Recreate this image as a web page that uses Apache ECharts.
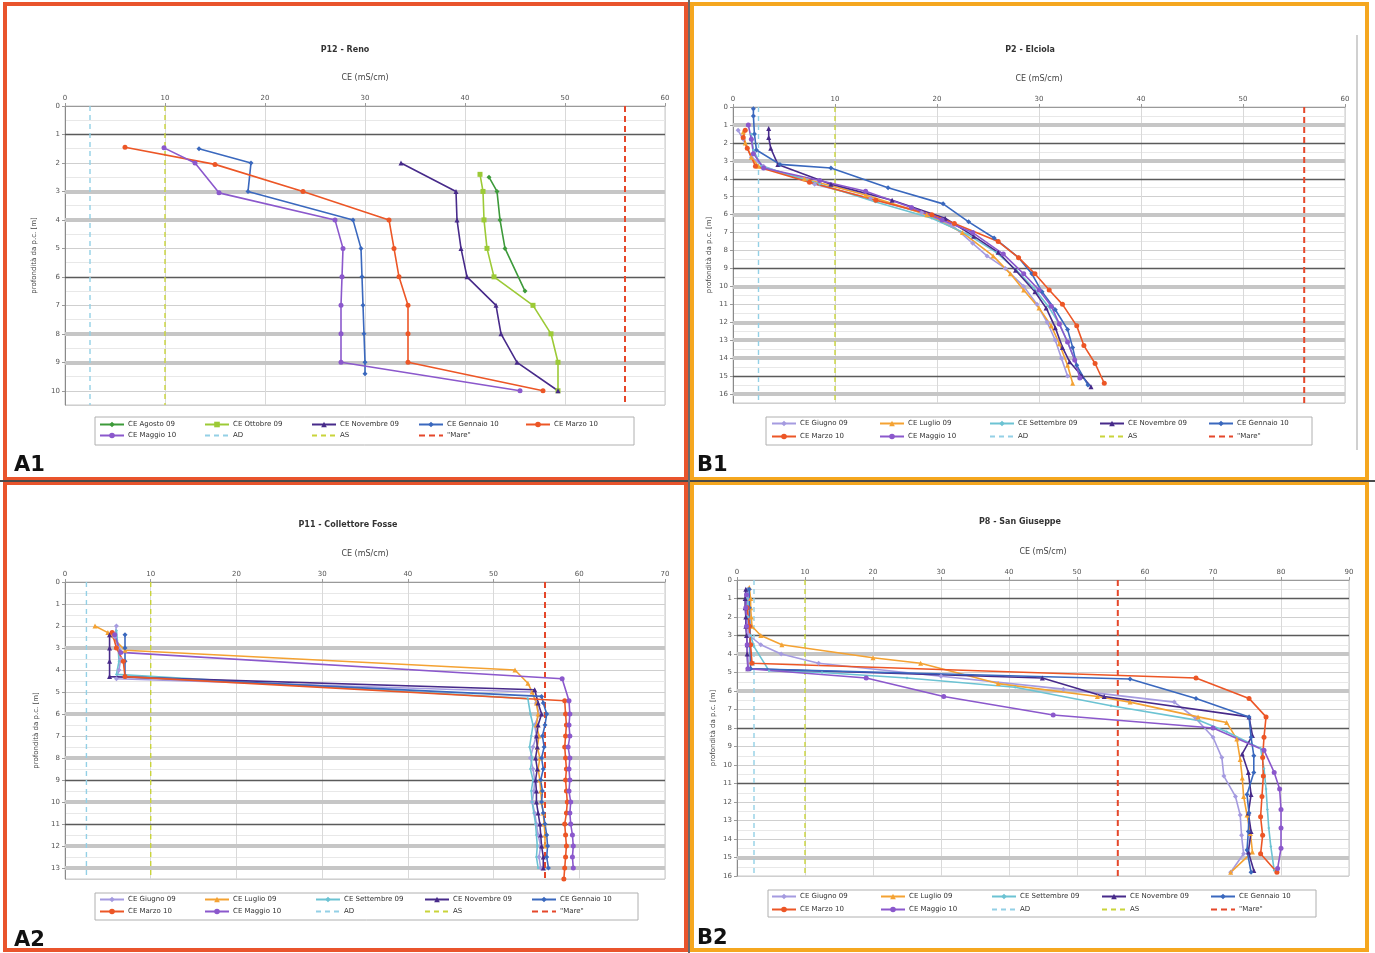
<!DOCTYPE html>
<html>
<head>
<meta charset="utf-8">
<script src="https://cdn.jsdelivr.net/npm/echarts@6/dist/echarts.min.js"></script>
<style>
html,body{margin:0;padding:0;background:#fff;}
#chart{width:1375px;height:953px;}
</style>
</head>
<body>
<div id="chart"></div>
<script>
// ---------------- DATA (x = CE mS/cm, y = depth m) ----------------
const REF_AD = 2.5, REF_AS = 10, REF_MARE = 56;

// A1 - P12 Reno
const A1_AGOSTO_09   = [[42.4,2.5],[43.2,3.0],[43.5,4.0],[44.0,5.0],[46.0,6.5]];
const A1_OTTOBRE_09  = [[41.5,2.4],[41.8,3.0],[41.9,4.0],[42.2,5.0],[42.9,6.0],[46.8,7.0],[48.6,8.0],[49.3,9.0],[49.3,10.0]];
const A1_NOVEMBRE_09 = [[33.6,2.0],[39.1,3.0],[39.2,4.0],[39.6,5.0],[40.2,6.0],[43.1,7.0],[43.6,8.0],[45.2,9.0],[49.3,10.0]];
const A1_GENNAIO_10  = [[13.4,1.5],[18.6,2.0],[18.3,3.0],[28.8,4.0],[29.6,5.0],[29.7,6.0],[29.8,7.0],[29.9,8.0],[30.0,9.0],[30.0,9.4]];
const A1_MARZO_10    = [[6.0,1.45],[15.0,2.05],[23.8,3.0],[32.4,4.0],[32.9,5.0],[33.4,6.0],[34.3,7.0],[34.3,8.0],[34.3,9.0],[47.8,10.0]];
const A1_MAGGIO_10   = [[9.9,1.47],[13.0,2.0],[15.4,3.05],[27.0,4.0],[27.8,5.0],[27.7,6.0],[27.6,7.0],[27.6,8.0],[27.6,9.0],[45.5,10.0]];

// B1 - P2 Elciola
const B1_GIUGNO_09    = [[0.5,1.3],[1.0,1.8],[1.8,2.8],[3.0,3.3],[8.0,4.3],[13.5,5.1],[18.5,5.9],[21.5,6.6],[23.5,7.6],[24.9,8.3],[26.7,9.0],[28.5,10.0],[29.8,11.0],[30.8,12.0],[31.6,13.0],[32.2,14.0],[32.8,15.0]];
const B1_LUGLIO_09    = [[1.0,1.4],[1.2,2.0],[1.8,2.8],[2.5,3.3],[7.0,4.0],[13.0,4.9],[19.0,6.0],[22.5,7.0],[25.5,8.3],[27.2,9.3],[28.5,10.2],[30.0,11.2],[31.2,12.2],[32.0,13.2],[32.8,14.4],[33.3,15.4]];
const B1_SETTEMBRE_09 = [[1.8,1.5],[2.0,2.4],[2.8,3.3],[8.5,4.3],[14.0,5.3],[19.5,6.2],[23.0,7.1],[25.8,8.1],[27.8,9.1],[29.5,10.1],[30.9,11.1],[32.0,12.1],[32.8,13.1],[33.5,14.1],[34.2,15.1]];
const B1_NOVEMBRE_09  = [[3.5,1.2],[3.5,1.7],[3.7,2.3],[4.4,3.2],[9.6,4.3],[15.6,5.2],[20.8,6.2],[23.6,7.2],[26.0,8.1],[27.7,9.1],[29.6,10.3],[30.7,11.2],[31.6,12.3],[32.3,13.4],[33.0,14.2],[34.2,15.0],[35.1,15.6]];
const B1_GENNAIO_10   = [[2.0,0.1],[2.0,0.5],[2.1,1.5],[2.3,2.4],[4.6,3.2],[9.6,3.4],[15.2,4.5],[20.6,5.4],[23.1,6.4],[25.6,7.3],[28.0,8.4],[29.3,9.3],[30.3,10.3],[31.6,11.3],[32.8,12.4],[33.3,13.4],[33.7,14.4],[34.8,15.5]];
const B1_MARZO_10     = [[1.2,1.3],[1.0,1.7],[1.4,2.3],[2.2,3.3],[7.5,4.2],[14.0,5.2],[19.5,6.0],[21.7,6.5],[26.0,7.5],[28.0,8.4],[29.6,9.3],[31.0,10.2],[32.3,11.0],[33.7,12.2],[34.4,13.3],[35.5,14.3],[36.4,15.4]];
const B1_MAGGIO_10    = [[1.5,1.0],[1.8,1.8],[2.0,2.6],[3.0,3.4],[8.5,4.1],[13.0,4.7],[17.5,5.6],[20.5,6.3],[23.5,7.0],[26.5,8.2],[28.5,9.3],[30.0,10.2],[31.2,11.1],[32.0,12.1],[32.8,13.1],[33.5,14.1],[34.0,15.1]];

// A2 - P11 Collettore Fosse
const A2_GIUGNO_09    = [[6.0,2.0],[5.8,2.5],[6.2,3.0],[6.5,3.5],[6.3,4.0],[6.0,4.4],[54.5,5.0],[55.0,5.5],[55.3,6.0],[54.8,6.5],[55.0,7.0],[54.6,7.5],[54.3,8.0],[54.6,8.5],[54.8,9.0],[54.7,9.5],[54.5,10.0],[54.8,10.5],[55.0,11.0],[55.2,11.5],[55.5,12.0],[55.3,12.5],[55.5,13.0]];
const A2_LUGLIO_09    = [[3.5,2.0],[5.0,2.3],[7.0,3.1],[52.5,4.0],[54.0,4.6],[54.5,5.0],[55.0,5.5],[55.2,6.0],[55.0,6.5],[55.3,7.0],[55.1,7.5],[55.4,8.0],[55.2,8.5],[55.4,9.0],[55.5,9.5],[55.6,10.0],[55.8,10.5],[55.9,11.0],[56.0,11.5],[56.0,12.0]];
const A2_SETTEMBRE_09 = [[6.0,2.2],[6.2,3.0],[6.3,3.6],[6.0,4.2],[54.0,5.3],[54.3,6.0],[54.6,6.5],[54.4,7.0],[54.2,7.5],[54.5,8.0],[54.3,8.5],[54.6,9.0],[54.4,9.5],[54.5,10.0],[54.7,10.5],[54.9,11.0],[55.0,11.5],[55.1,12.0],[55.0,12.5],[55.2,13.0]];
const A2_NOVEMBRE_09  = [[5.2,2.4],[5.2,3.0],[5.2,3.6],[5.2,4.3],[54.8,4.9],[55.2,5.5],[55.6,6.0],[55.2,6.5],[55.0,7.0],[55.1,7.5],[54.9,8.0],[55.1,8.5],[54.9,9.0],[55.0,9.5],[55.0,10.0],[55.2,10.5],[55.4,11.0],[55.5,11.5],[55.6,12.0],[55.8,12.5],[55.8,13.0]];
const A2_GENNAIO_10   = [[7.0,2.4],[7.0,3.0],[7.0,3.6],[7.0,4.3],[55.6,5.2],[55.8,5.5],[56.2,6.0],[56.0,6.5],[55.7,7.0],[55.9,7.5],[55.6,8.0],[55.8,8.5],[55.5,9.0],[55.7,9.5],[55.6,10.0],[55.8,10.5],[56.0,11.0],[56.2,11.5],[56.3,12.0],[56.2,12.5],[56.4,13.0]];
const A2_MARZO_10     = [[5.5,2.3],[6.0,3.0],[6.8,3.6],[7.0,4.3],[58.3,5.4],[58.4,6.0],[58.5,6.5],[58.4,7.0],[58.3,7.5],[58.4,8.0],[58.5,8.5],[58.4,9.0],[58.5,9.5],[58.6,10.0],[58.5,10.5],[58.3,11.0],[58.4,11.5],[58.5,12.0],[58.4,12.5],[58.3,13.0],[58.2,13.5]];
const A2_MAGGIO_10    = [[5.8,2.4],[6.5,3.2],[58.0,4.4],[58.8,5.4],[58.9,6.0],[58.8,6.5],[58.9,7.0],[58.7,7.5],[58.9,8.0],[58.8,8.5],[58.9,9.0],[58.8,9.5],[59.0,10.0],[58.9,10.5],[59.0,11.0],[59.2,11.5],[59.3,12.0],[59.2,12.5],[59.3,13.0]];

// B2 - P8 San Giuseppe
const B2_GIUGNO_09    = [[1.6,0.5],[1.5,1.0],[1.4,1.5],[1.5,2.0],[1.6,2.5],[1.8,3.0],[3.5,3.5],[6.5,4.0],[12.0,4.5],[30.0,5.2],[48.0,5.9],[64.3,6.6],[67.5,7.5],[70.0,8.5],[71.3,9.6],[71.6,10.6],[73.3,11.7],[74.0,12.7],[74.2,13.8],[74.5,14.8],[72.6,15.8]];
const B2_LUGLIO_09    = [[1.8,0.4],[2.0,1.0],[2.0,1.5],[2.1,2.0],[2.2,2.5],[3.5,3.0],[6.6,3.5],[20.0,4.2],[27.0,4.5],[38.4,5.6],[53.0,6.3],[57.8,6.6],[67.8,7.4],[72.0,7.7],[73.5,8.6],[74.0,9.7],[74.3,10.7],[74.5,11.7],[75.0,12.7],[75.5,13.7],[75.8,14.7],[72.6,15.8]];
const B2_SETTEMBRE_09 = [[1.5,0.5],[1.5,1.0],[1.6,2.0],[2.0,3.0],[2.5,3.6],[4.7,4.9],[12.5,5.0],[25.0,5.3],[40.9,5.8],[55.0,6.8],[68.0,7.6],[72.0,8.2],[77.0,9.1],[77.5,10.2],[77.8,11.3],[78.0,12.4],[78.2,13.4],[78.5,14.4],[79.0,15.7]];
const B2_NOVEMBRE_09  = [[1.3,0.5],[1.2,1.0],[1.2,1.5],[1.3,2.0],[1.3,2.5],[1.4,3.0],[1.5,3.5],[1.5,4.0],[1.6,4.8],[44.9,5.3],[54.0,6.3],[75.3,7.4],[75.8,8.4],[74.3,9.4],[75.2,10.4],[75.6,11.6],[75.2,12.6],[75.6,13.6],[75.2,14.7],[76.0,15.7]];
const B2_GENNAIO_10   = [[1.8,0.5],[1.8,1.5],[1.9,2.5],[1.9,3.5],[2.0,4.8],[57.8,5.35],[67.5,6.4],[75.3,7.4],[75.6,8.5],[76.0,9.5],[76.0,10.4],[75.0,11.6],[75.3,12.6],[75.2,13.6],[75.0,14.6],[75.6,15.8]];
const B2_MARZO_10     = [[1.5,1.5],[1.8,2.5],[2.0,3.5],[2.2,4.5],[67.5,5.3],[75.3,6.4],[77.8,7.4],[77.5,8.5],[77.3,9.6],[77.4,10.6],[77.2,11.7],[77.0,12.8],[77.3,13.8],[77.0,14.8],[79.4,15.8]];
const B2_MAGGIO_10    = [[1.4,0.8],[1.3,1.5],[1.4,2.5],[1.5,3.5],[1.6,4.8],[19.0,5.3],[30.4,6.3],[46.5,7.3],[70.0,8.0],[77.5,9.2],[79.0,10.4],[79.8,11.3],[80.0,12.4],[80.0,13.4],[80.0,14.5],[79.5,15.6]];

// Highlighted depth lines per panel
const A1_DARK = [1, 6],          A1_BAND = [3, 4, 8, 9];
const B1_DARK = [2, 4, 9, 15],   B1_BAND = [1, 3, 6, 10, 12, 13, 14, 16];
const A2_DARK = [9, 11],         A2_BAND = [3, 6, 8, 10, 12, 13];
const B2_DARK = [1, 3, 8, 11],   B2_BAND = [4, 6, 15];

// Axis ranges
const A1_X = [0, 60], A1_Y = [0, 10.5];
const B1_X = [0, 60], B1_Y = [0, 16.5];
const A2_X = [0, 70], A2_Y = [0, 13.5];
const B2_X = [0, 90], B2_Y = [0, 16];

const TITLES = ['P12 - Reno', 'P2 - Elciola', 'P11 - Collettore Fosse', 'P8 - San Giuseppe'];
const PANEL_LABELS = ['A1', 'B1', 'A2', 'B2'];
const X_NAME = 'CE (mS/cm)';
const Y_NAME = 'profondità da p.c. [m]';
const REF_NAMES = ['AD', 'AS', '"Mare"'];

// ---------------- STYLES ----------------
const STYLE = {
  'CE Agosto 09':    {color:'#3d9a3a', symbol:'diamond'},
  'CE Ottobre 09':   {color:'#9cca36', symbol:'square'},
  'CE Giugno 09':    {color:'#a59be0', symbol:'diamond'},
  'CE Luglio 09':    {color:'#f4a232', symbol:'triangle'},
  'CE Settembre 09': {color:'#6cc3d3', symbol:'diamond', size:3},
  'CE Novembre 09':  {color:'#472a8a', symbol:'triangle'},
  'CE Gennaio 10':   {color:'#3a68be', symbol:'diamond'},
  'CE Marzo 10':     {color:'#ec5626', symbol:'circle'},
  'CE Maggio 10':    {color:'#8b58cc', symbol:'circle'},
  'AD':              {color:'#93d0e6'},
  'AS':              {color:'#c9d43a'},
  '"Mare"':          {color:'#e5472a'}
};

const panels = [
  { grid:{left:65, top:106, width:600, height:299}, x:A1_X, y:A1_Y, yGap:27, title:[345,50],
    series:[['CE Agosto 09',A1_AGOSTO_09],['CE Ottobre 09',A1_OTTOBRE_09],['CE Novembre 09',A1_NOVEMBRE_09],['CE Gennaio 10',A1_GENNAIO_10],['CE Marzo 10',A1_MARZO_10],['CE Maggio 10',A1_MAGGIO_10]],
    dark:A1_DARK, band:A1_BAND,
    leg:{cols:[99,204,311,418,525], rows:[426,437], box:[95,417,539,28]} },
  { grid:{left:733, top:107, width:612, height:296}, x:B1_X, y:B1_Y, yGap:20, title:[1030,50],
    series:[['CE Giugno 09',B1_GIUGNO_09],['CE Luglio 09',B1_LUGLIO_09],['CE Settembre 09',B1_SETTEMBRE_09],['CE Novembre 09',B1_NOVEMBRE_09],['CE Gennaio 10',B1_GENNAIO_10],['CE Marzo 10',B1_MARZO_10],['CE Maggio 10',B1_MAGGIO_10]],
    dark:B1_DARK, band:B1_BAND,
    leg:{cols:[771,879,989,1099,1208], rows:[425,438], box:[766,417,546,28]} },
  { grid:{left:65, top:582, width:600, height:297}, x:A2_X, y:A2_Y, yGap:25, title:[348,525],
    series:[['CE Giugno 09',A2_GIUGNO_09],['CE Luglio 09',A2_LUGLIO_09],['CE Settembre 09',A2_SETTEMBRE_09],['CE Novembre 09',A2_NOVEMBRE_09],['CE Gennaio 10',A2_GENNAIO_10],['CE Marzo 10',A2_MARZO_10],['CE Maggio 10',A2_MAGGIO_10]],
    dark:A2_DARK, band:A2_BAND,
    leg:{cols:[99,204,315,424,531], rows:[901,913], box:[95,893,543,27]} },
  { grid:{left:737, top:580, width:612, height:296}, x:B2_X, y:B2_Y, yGap:20, title:[1020,522],
    series:[['CE Giugno 09',B2_GIUGNO_09],['CE Luglio 09',B2_LUGLIO_09],['CE Settembre 09',B2_SETTEMBRE_09],['CE Novembre 09',B2_NOVEMBRE_09],['CE Gennaio 10',B2_GENNAIO_10],['CE Marzo 10',B2_MARZO_10],['CE Maggio 10',B2_MAGGIO_10]],
    dark:B2_DARK, band:B2_BAND,
    leg:{cols:[771,880,991,1101,1210], rows:[898,911], box:[768,890,548,27]} }
];

const grids = [], xAxes = [], yAxes = [], series = [], legends = [], graphics = [];
const FONT = 'Verdana, "DejaVu Sans", sans-serif';

panels.forEach((p, i) => {
  grids.push(Object.assign({show:true, borderColor:'#c8c8c8', borderWidth:1, backgroundColor:'#fff'}, p.grid));
  xAxes.push({
    type:'value', gridIndex:i, position:'top', min:p.x[0], max:p.x[1], interval:10,
    name:X_NAME, nameLocation:'middle', nameGap:24,
    nameTextStyle:{fontSize:8, color:'#444', fontFamily:FONT},
    axisLine:{show:true, lineStyle:{color:'#9a9a9a'}},
    axisTick:{show:true, length:3, lineStyle:{color:'#9a9a9a'}},
    axisLabel:{fontSize:7, color:'#555', margin:4, fontFamily:FONT},
    splitLine:{show:true, lineStyle:{color:'#d9d9d9', width:1}}
  });
  yAxes.push({
    type:'value', gridIndex:i, inverse:true, min:p.y[0], max:p.y[1], interval:1,
    name:Y_NAME, nameLocation:'middle', nameGap:p.yGap, nameRotate:90,
    nameTextStyle:{fontSize:7, color:'#444', fontFamily:FONT},
    axisLine:{show:true, lineStyle:{color:'#8a8a8a'}},
    axisTick:{show:true, length:3, lineStyle:{color:'#9a9a9a'}},
    axisLabel:{fontSize:7, color:'#555', margin:5, showMaxLabel:Number.isInteger(p.y[1]), fontFamily:FONT},
    minorTick:{show:false, splitNumber:2},
    splitLine:{show:true, lineStyle:{color:'#cfcfcf', width:1}},
    minorSplitLine:{show:true, lineStyle:{color:'#e8e8e8', width:1}}
  });

  // reference dashed lines
  const refVals = [REF_AD, REF_AS, REF_MARE];
  REF_NAMES.forEach((rn, k) => {
    const s = {
      type:'line', name:rn, xAxisIndex:i, yAxisIndex:i, z:2,
      data:[[refVals[k], p.y[0]], [refVals[k], p.y[1]]],
      symbol:'none', silent:true,
      lineStyle:{color:STYLE[rn].color, width: rn === '"Mare"' ? 2 : 1.4, type: rn === '"Mare"' ? [6,4] : [5,4]},
      itemStyle:{color:STYLE[rn].color}
    };
    if (k === 0) {
      s.markLine = {
        silent:true, symbol:'none', z:1, animation:false,
        label:{show:false},
        lineStyle:{type:'solid'},
        data: p.band.map(d => ({yAxis:d, lineStyle:{color:'#c6c6c6', width:4, type:'solid'}}))
              .concat(p.dark.map(d => ({yAxis:d, lineStyle:{color:'#5a5a5a', width:1.3, type:'solid'}})))
      };
    }
    series.push(s);
  });

  p.series.forEach(([name, data]) => {
    const st = STYLE[name];
    series.push({
      type:'line', name, xAxisIndex:i, yAxisIndex:i, z:4, data,
      symbol:st.symbol, symbolSize:st.size || 5,
      lineStyle:{color:st.color, width:1.6},
      itemStyle:{color:st.color}
    });
  });

  // legends (one per item so the columns line up like the original)
  const names = p.series.map(s => s[0]).concat(REF_NAMES);
  names.forEach((n, k) => {
    const row = Math.floor(k / 5), col = k % 5;
    const isRef = REF_NAMES.indexOf(n) >= 0;
    const lg = {
      data:[n], left:p.leg.cols[col], top:p.leg.rows[row] - 5,
      itemWidth:24, itemHeight:7, itemGap:0, padding:0, selectedMode:false,
      textStyle:{fontSize:7, color:'#333', fontFamily:FONT, padding:[0,0,0,-1]}
    };
    if (isRef) lg.itemStyle = {opacity:0};
    legends.push(lg);
  });
  const b = p.leg.box;
  graphics.push({type:'rect', shape:{x:b[0], y:b[1], width:b[2], height:b[3]}, style:{fill:'none', stroke:'#b0b0b0', lineWidth:1}, z:10});

  graphics.push({type:'text', x:p.title[0], y:p.title[1], style:{text:TITLES[i], fontSize:8, fontWeight:'bold', fill:'#333', align:'center', verticalAlign:'middle', fontFamily:FONT}, z:10});
});

// panel borders and separators
const RED = '#e9542c', ORANGE = '#f5a71f';
graphics.push(
  {type:'rect', shape:{x:5, y:4, width:681, height:475}, style:{fill:'none', stroke:RED, lineWidth:4}, z:20},
  {type:'rect', shape:{x:5, y:483, width:681, height:467}, style:{fill:'none', stroke:RED, lineWidth:4}, z:20},
  {type:'rect', shape:{x:692, y:4, width:675, height:475}, style:{fill:'none', stroke:ORANGE, lineWidth:4}, z:20},
  {type:'rect', shape:{x:692, y:483, width:675, height:467}, style:{fill:'none', stroke:ORANGE, lineWidth:4}, z:20},
  {type:'line', shape:{x1:0, y1:481, x2:1375, y2:481}, style:{stroke:'#4a4a4a', lineWidth:2}, z:21},
  {type:'line', shape:{x1:689, y1:0, x2:689, y2:953}, style:{stroke:'#6a6a6a', lineWidth:2}, z:21},
  {type:'line', shape:{x1:1357, y1:35, x2:1357, y2:450}, style:{stroke:'#d0d0d0', lineWidth:2}, z:10}
);
const labelPos = [[14,466],[697,466],[14,941],[697,939]];
PANEL_LABELS.forEach((t, i) => {
  graphics.push({type:'text', x:labelPos[i][0], y:labelPos[i][1], style:{text:t, fontSize:21, fontWeight:'bold', fill:'#111', verticalAlign:'middle', fontFamily:'"DejaVu Sans", sans-serif'}, z:22});
});

const chart = echarts.init(document.getElementById('chart'), null, {renderer:'canvas'});
chart.setOption({
  animation:false,
  backgroundColor:'#fff',
  grid:grids, xAxis:xAxes, yAxis:yAxes,
  legend:legends,
  series,
  graphic:{elements:graphics}
});
</script>
</body>
</html>
